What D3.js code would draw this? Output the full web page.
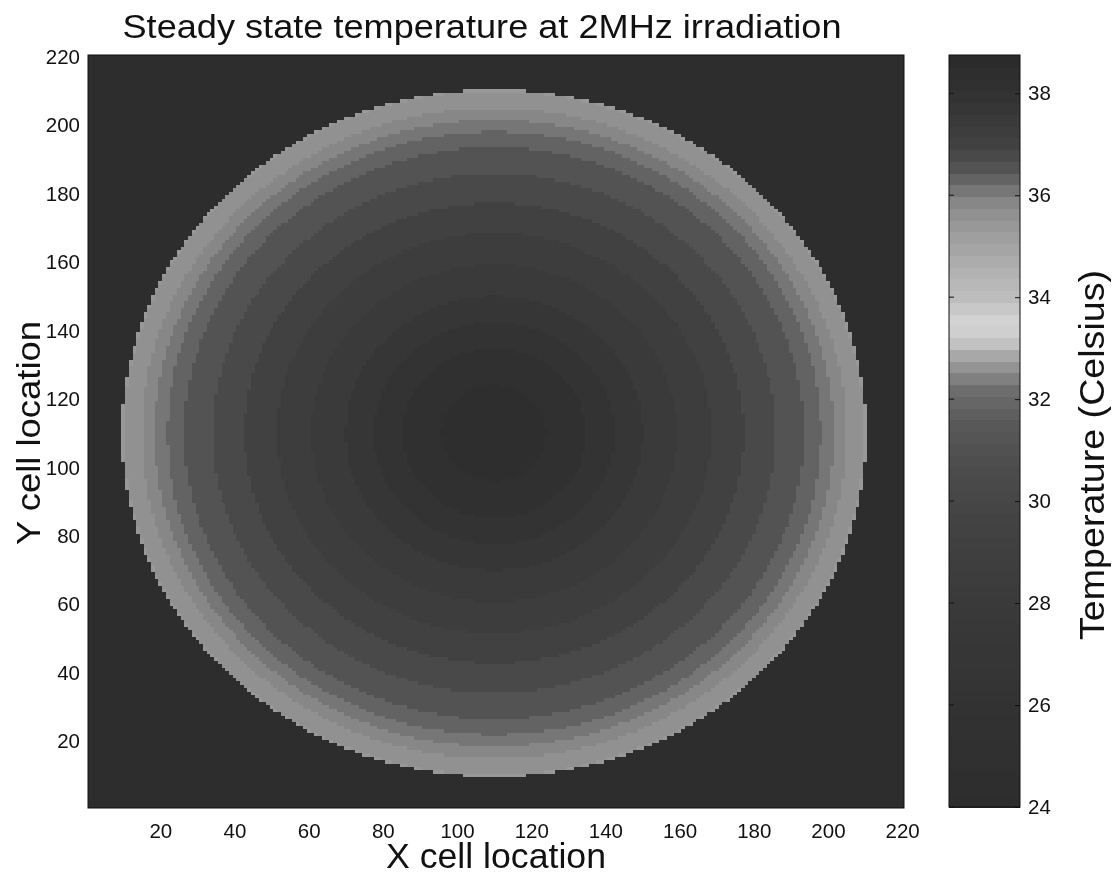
<!DOCTYPE html>
<html>
<head>
<meta charset="utf-8">
<script src="https://cdn.jsdelivr.net/npm/d3@7"></script>
<style>
  body { margin: 0; background: #fff; }
  #wrap { position: relative; width: 1112px; height: 875px; }
  canvas, svg { position: absolute; left: 0; top: 0; }
  text { font-family: "Liberation Sans", Arial, sans-serif; fill: #111; }
</style>
</head>
<body>
<div id="wrap">
  <canvas id="heat" width="1112" height="875"></canvas>
  <svg id="chart" width="1112" height="875"></svg>
</div>
<script>
// grid and disk geometry (cell units)
const gridSize = 220;
const diskCenter = [110, 110];
const diskRadius = 100.4;
const ambientTemp = 24;

// radial temperature profile of the disk (distance from centre -> deg C)
const profileRadius = [0, 20, 40, 60, 75, 85, 90, 94, 100.4];
const profileTemp = [38.5, 38.2, 37.6, 37.1, 36.7, 36.4, 36.1, 35.8, 35.5];

const xTicks = [20, 40, 60, 80, 100, 120, 140, 160, 180, 200, 220];
const yTicks = [20, 40, 60, 80, 100, 120, 140, 160, 180, 200, 220];
const cbarTicks = [24, 26, 28, 30, 32, 34, 36, 38];
const cbarRange = [24, 38.75];

// printed-grey version of the colormap (temperature -> grey level)
const grayStopT = [24, 26, 28, 29.5, 30.5, 31.5, 32.2, 32.8, 33.2, 33.6, 34.0, 34.6, 35.2, 35.8, 36.2, 36.5, 37.0, 38.0, 38.75];
const grayStopV = [45, 50, 58, 66, 74, 88, 110, 160, 205, 210, 190, 175, 158, 140, 110, 85, 65, 50, 42];
const nColors = 64;

const plot = { left: 88, right: 904, top: 55, bottom: 808 };
const cbar = { left: 949, right: 1020, top: 55, bottom: 807 };

const x = d3.scaleLinear().domain([0.5, gridSize + 0.5]).range([plot.left, plot.right]);
const y = d3.scaleLinear().domain([0.5, gridSize + 0.5]).range([plot.bottom, plot.top]);
const profile = d3.scaleLinear().domain(profileRadius).range(profileTemp).clamp(true);
const grey = d3.scaleLinear().domain(grayStopT).range(grayStopV).clamp(true);

// quantised colormap, 64 bands like the original
const step = (cbarRange[1] - cbarRange[0]) / nColors;
const bands = d3.range(nColors).map(k => {
  const t0 = cbarRange[0] + k * step;
  const g = Math.round(grey(t0 + step / 2));
  return { t0: t0, t1: t0 + step, color: d3.rgb(g, g, g).toString() };
});
function colorOf(t) {
  let k = Math.floor((t - cbarRange[0]) / step);
  k = Math.max(0, Math.min(nColors - 1, k));
  return bands[k].color;
}

// heat map cells
const ctx = document.getElementById("heat").getContext("2d");
for (let i = 1; i <= gridSize; i++) {
  const x0 = Math.round(x(i - 0.5)), x1 = Math.round(x(i + 0.5));
  for (let j = 1; j <= gridSize; j++) {
    const r = Math.hypot(i - diskCenter[0], j - diskCenter[1]);
    const t = r <= diskRadius ? profile(r) : ambientTemp;
    const y0 = Math.round(y(j + 0.5)), y1 = Math.round(y(j - 0.5));
    ctx.fillStyle = colorOf(t);
    ctx.fillRect(x0, y0, x1 - x0, y1 - y0);
  }
}

const svg = d3.select("#chart");

svg.append("rect")
  .attr("x", plot.left).attr("y", plot.top)
  .attr("width", plot.right - plot.left).attr("height", plot.bottom - plot.top)
  .attr("fill", "none").attr("stroke", "#111").attr("stroke-width", 1);

const xAxis = svg.append("g")
  .attr("transform", `translate(0,${plot.bottom})`)
  .call(d3.axisBottom(x).tickValues(xTicks).tickSize(0).tickPadding(15));
xAxis.select(".domain").remove();
xAxis.selectAll("text").attr("font-size", 20.5).attr("font-family", null);

const yAxis = svg.append("g")
  .attr("transform", `translate(${plot.left},0)`)
  .call(d3.axisLeft(y).tickValues(yTicks).tickSize(0).tickPadding(8));
yAxis.select(".domain").remove();
yAxis.selectAll("text").attr("font-size", 20.5).attr("font-family", null);

// colorbar
const cy = d3.scaleLinear().domain(cbarRange).range([cbar.bottom, cbar.top]);
svg.append("g")
  .attr("shape-rendering", "crispEdges")
  .selectAll("rect")
  .data(bands)
  .join("rect")
  .attr("x", cbar.left)
  .attr("y", d => cy(d.t1))
  .attr("width", cbar.right - cbar.left)
  .attr("height", d => cy(d.t0) - cy(d.t1) + 1)
  .attr("fill", d => d.color);
svg.append("rect")
  .attr("x", cbar.left).attr("y", cbar.top)
  .attr("width", cbar.right - cbar.left).attr("height", cbar.bottom - cbar.top)
  .attr("fill", "none").attr("stroke", "#111").attr("stroke-width", 1);

const cAxis = svg.append("g")
  .attr("transform", `translate(${cbar.right},0)`)
  .call(d3.axisRight(cy).tickValues(cbarTicks).tickSize(-5).tickPadding(8));
cAxis.select(".domain").remove();
cAxis.selectAll("line").attr("stroke", "#111");
cAxis.selectAll("text").attr("font-size", 20.5).attr("font-family", null);
svg.append("g").selectAll("line")
  .data(cbarTicks)
  .join("line")
  .attr("x1", cbar.left).attr("x2", cbar.left + 5)
  .attr("y1", d => cy(d)).attr("y2", d => cy(d))
  .attr("stroke", "#111");

// titles
svg.append("text")
  .attr("x", 482).attr("y", 38)
  .attr("text-anchor", "middle")
  .attr("font-size", 34)
  .attr("textLength", 719)
  .attr("lengthAdjust", "spacingAndGlyphs")
  .text("Steady state temperature at 2MHz irradiation");

svg.append("text")
  .attr("x", (plot.left + plot.right) / 2).attr("y", 868)
  .attr("text-anchor", "middle")
  .attr("font-size", 35)
  .attr("textLength", 220)
  .attr("lengthAdjust", "spacingAndGlyphs")
  .text("X cell location");

svg.append("text")
  .attr("transform", `translate(40,433) rotate(-90)`)
  .attr("text-anchor", "middle")
  .attr("font-size", 33)
  .attr("textLength", 224)
  .attr("lengthAdjust", "spacingAndGlyphs")
  .text("Y cell location");

svg.append("text")
  .attr("transform", `translate(1104,455) rotate(-90)`)
  .attr("text-anchor", "middle")
  .attr("font-size", 35)
  .attr("textLength", 370)
  .attr("lengthAdjust", "spacingAndGlyphs")
  .text("Temperature (Celsius)");
</script>
</body>
</html>
